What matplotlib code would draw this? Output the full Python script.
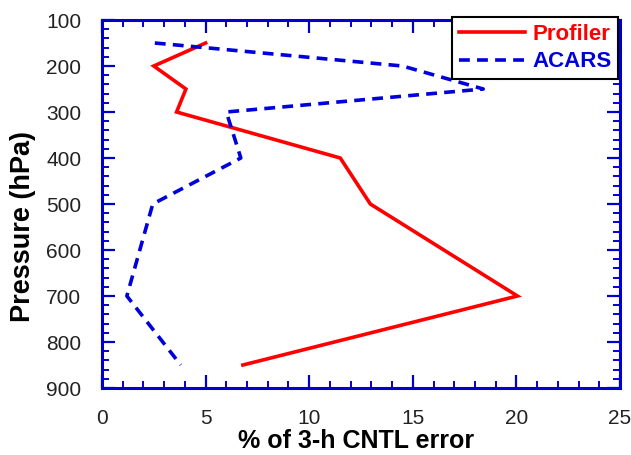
import matplotlib
matplotlib.use('Agg')
import matplotlib.pyplot as plt
from matplotlib.ticker import MultipleLocator

plt.rcParams['font.family'] = ['Liberation Sans', 'DejaVu Sans']

# pressure levels (hPa) and % of 3-h CNTL error
profiler_p = [150, 200, 250, 300, 400, 500, 700, 850]
profiler_err = [5.0, 2.5, 4.05, 3.6, 11.5, 12.95, 20.05, 6.8]

acars_p = [150, 200, 250, 300, 400, 500, 700, 850]
acars_err = [2.55, 14.5, 18.4, 6.0, 6.7, 2.45, 1.2, 3.8]

x_ticks = [0, 5, 10, 15, 20, 25]
y_ticks = [100, 200, 300, 400, 500, 600, 700, 800, 900]

axis_blue = '#0000cc'

fig = plt.figure(figsize=(6.31, 4.55), dpi=100)
ax = fig.add_axes([102 / 631, 1 - 388 / 455, (620 - 102) / 631, (388 - 20) / 455])

ax.plot(profiler_err, profiler_p, color='#ff0000', lw=2.6, label='Profiler',
        solid_joinstyle='miter')
ax.plot(acars_err, acars_p, color='#0000dd', lw=2.6, ls=(0, (3, 2)),
        label='ACARS')

ax.set_xlim(0, 25)
ax.set_ylim(900, 100)
ax.set_xticks(x_ticks)
ax.set_yticks(y_ticks)
ax.xaxis.set_minor_locator(MultipleLocator(1))
ax.yaxis.set_minor_locator(MultipleLocator(20))

ax.tick_params(which='both', direction='in', top=True, right=True,
               color=axis_blue, labelsize=15, labelcolor='#222222')
ax.tick_params(which='major', length=9.5, width=1.6)
ax.tick_params(which='minor', length=5, width=1.4)
ax.tick_params(axis='x', which='major', pad=15)
ax.tick_params(axis='y', which='major', pad=15)
for s in ax.spines.values():
    s.set_color(axis_blue)
    s.set_linewidth(2.2)

ax.set_xlabel('% of 3-h CNTL error', fontsize=18, fontweight='bold')
ax.set_ylabel('Pressure (hPa)', fontsize=19.5, fontweight='bold')
ax.xaxis.set_label_coords(0.49, -0.112)
ax.yaxis.set_label_coords(-0.127, 0.4375)

leg = ax.legend(loc='upper right', bbox_to_anchor=(618 / 631, 1 - 17 / 455),
                bbox_transform=fig.transFigure, borderaxespad=0,
                fancybox=False, framealpha=1, edgecolor='black',
                handlelength=3.0, handletextpad=0.3, borderpad=0.3,
                labelspacing=0.3, prop={'size': 16, 'weight': 'bold'})
leg.get_frame().set_linewidth(1.5)
for txt, c in zip(leg.get_texts(), ['#ff0000', '#0000dd']):
    txt.set_color(c)

fig.savefig('out.png', dpi=100)
